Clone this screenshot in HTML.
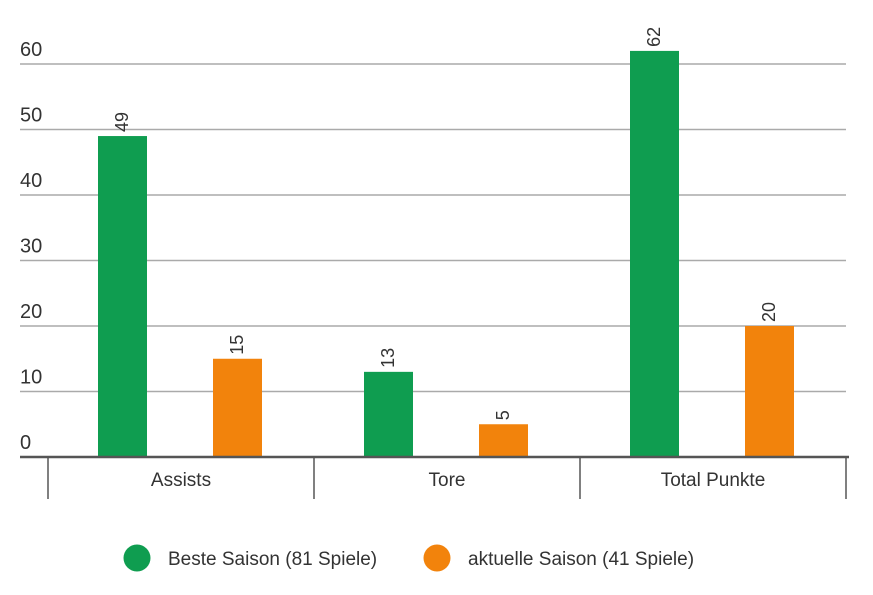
<!DOCTYPE html>
<html><head><meta charset="utf-8"><style>
body{margin:0;background:#fff;}
svg{display:block;font-family:"Liberation Sans",sans-serif;}
</style></head><body>
<svg id="c" width="873" height="595"></svg>
<script>
const categories=["Assists","Tore","Total Punkte"];
const besteValues=[49,13,62];
const aktuelleValues=[15,5,20];
const yTicks=[0,10,20,30,40,50,60];
const seriesNames=["Beste Saison (81 Spiele)","aktuelle Saison (41 Spiele)"];
const colors=["#0f9d50","#f2830c"];
const NS="http://www.w3.org/2000/svg";
const svg=document.getElementById('c');
const y0=457, pxPerUnit=6.55, x0=48, catW=266;
const y=v=>y0-v*pxPerUnit;
function el(t,a,p){const e=document.createElementNS(NS,t);for(const k in a)e.setAttribute(k,a[k]);(p||svg).appendChild(e);return e;}
yTicks.forEach(t=>{
  if(t>0){const g=el('line',{x1:20,x2:846,y1:y(t),y2:y(t),stroke:'#aaa','stroke-width':1.5});
  
  }
  const l=el('text',{x:20,y:y(t)-8,'font-size':20,fill:'#333'});l.textContent=t;
  
  
});
const series=[besteValues,aktuelleValues];
categories.forEach((c,i)=>{
  const cx=x0+catW*i;
  series.forEach((vals,s)=>{
    const bx=cx+50+s*115, v=vals[i];
    const r=el('rect',{x:bx,y:y(v),width:49,height:v*pxPerUnit,fill:colors[s]});
    
    
    const tx=bx+30, ty=y(v)-4;
    const t=el('text',{x:tx,y:ty,'font-size':18,fill:'#333',transform:`rotate(-90 ${tx} ${ty})`});
    t.textContent=v;
    
    
  });
  const lab=el('text',{x:cx+catW/2,y:486,'font-size':19,fill:'#333','text-anchor':'middle'});
  lab.textContent=c;
  
  
});
for(let i=0;i<=categories.length;i++){
  const t=el('line',{x1:x0+catW*i,x2:x0+catW*i,y1:y0,y2:499,stroke:'#555','stroke-width':1.5});
  
  
}
const ax=el('line',{x1:20,x2:849,y1:y0,y2:y0,stroke:'#555','stroke-width':2.5});


const lx=[137,437];
seriesNames.forEach((n,s)=>{
  const g=el('g',{});
  
  
  el('circle',{cx:lx[s],cy:558,r:13.5,fill:colors[s]},g);
  const t=el('text',{x:lx[s]+31,y:565,'font-size':19,fill:'#333'},g);t.textContent=n;
});
</script>
</body></html>
